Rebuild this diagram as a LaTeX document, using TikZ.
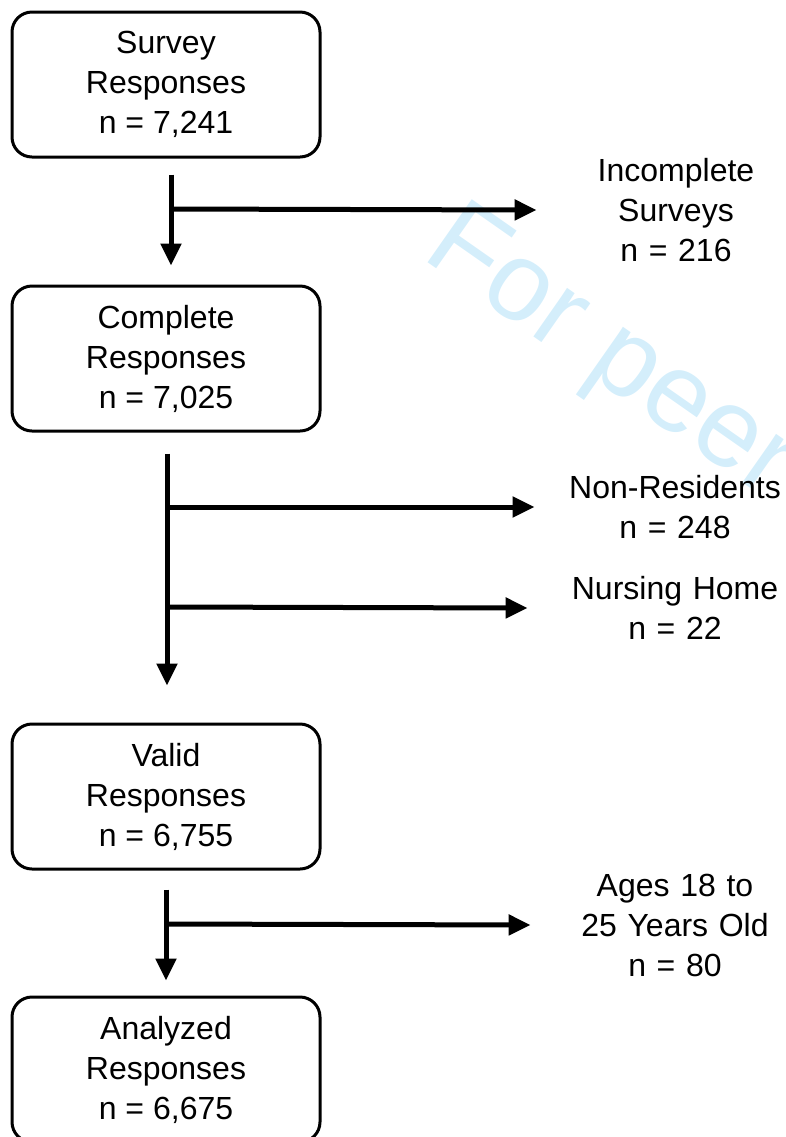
\documentclass[tikz,border=0pt]{standalone}
\usepackage{fontspec}
\setmainfont{Liberation Sans}
\usetikzlibrary{arrows.meta}
\definecolor{peerblue}{RGB}{212,238,251}

\begin{document}
\begin{tikzpicture}[x=0.5pt, y=-0.5pt, font=\fontsize{16}{20}\selectfont,
  box/.style={draw, line width=1.5pt, rounded corners=10pt, minimum width=154pt, minimum height=72.5pt, align=center, inner sep=0pt},
  side/.style={align=center, text width=110pt, inner sep=0pt},
  flow/.style={line width=2.5pt, -{Triangle[length=11pt,width=10pt]}}]

\useasboundingbox (0,0) rectangle (786,1137);
\clip (0,0) rectangle (786,1137);

% watermark
\node[text=peerblue, rotate=-35, anchor=base west, inner sep=0pt, font=\fontsize{56}{60}\selectfont] (mark) at (420,257) {For peer};

\node[box] (survey) at (166,84.5) {Survey\\Responses\\n = 7,241};
\node[box] (complete) at (166,358.5) {Complete\\Responses\\n = 7,025};
\node[box] (valid) at (166,796.5) {Valid\\Responses\\n = 6,755};
\node[box] (analyzed) at (166,1069.5) {Analyzed\\Responses\\n = 6,675};

\node[side] (incomplete) at (676,210) {Incomplete\\Surveys\\n = 216};
\node[side] (nonres) at (675,507) {Non-Residents\\n = 248};
\node[side] (nursing) at (675,608) {Nursing Home\\n = 22};
\node[side] (ages) at (675,925) {Ages 18 to\\25 Years Old\\n = 80};

\draw[flow] ([xshift=2.5pt,yshift=-8pt]survey.south) -- ([xshift=2.5pt,yshift=9.5pt]complete.north);
\draw[flow] ([xshift=0.5pt,yshift=-10.5pt]complete.south) -- ([xshift=0.5pt,yshift=18.5pt]valid.north);
\draw[flow] ([yshift=-9.5pt]valid.south) -- ([yshift=7.5pt]analyzed.north);

\coordinate (b1) at (171,209);
\coordinate (b2) at (167,507);
\coordinate (b3) at (167,607);
\coordinate (b4) at (166,924);
\draw[flow] (b1) -- ([xshift=-14.5pt]incomplete.west);
\draw[flow] (b2) -- ([xshift=-15pt]nonres.west);
\draw[flow] (b3) -- ([xshift=-18.5pt]nursing.west);
\draw[flow] (b4) -- ([xshift=-17pt]ages.west);

\end{tikzpicture}
\end{document}
